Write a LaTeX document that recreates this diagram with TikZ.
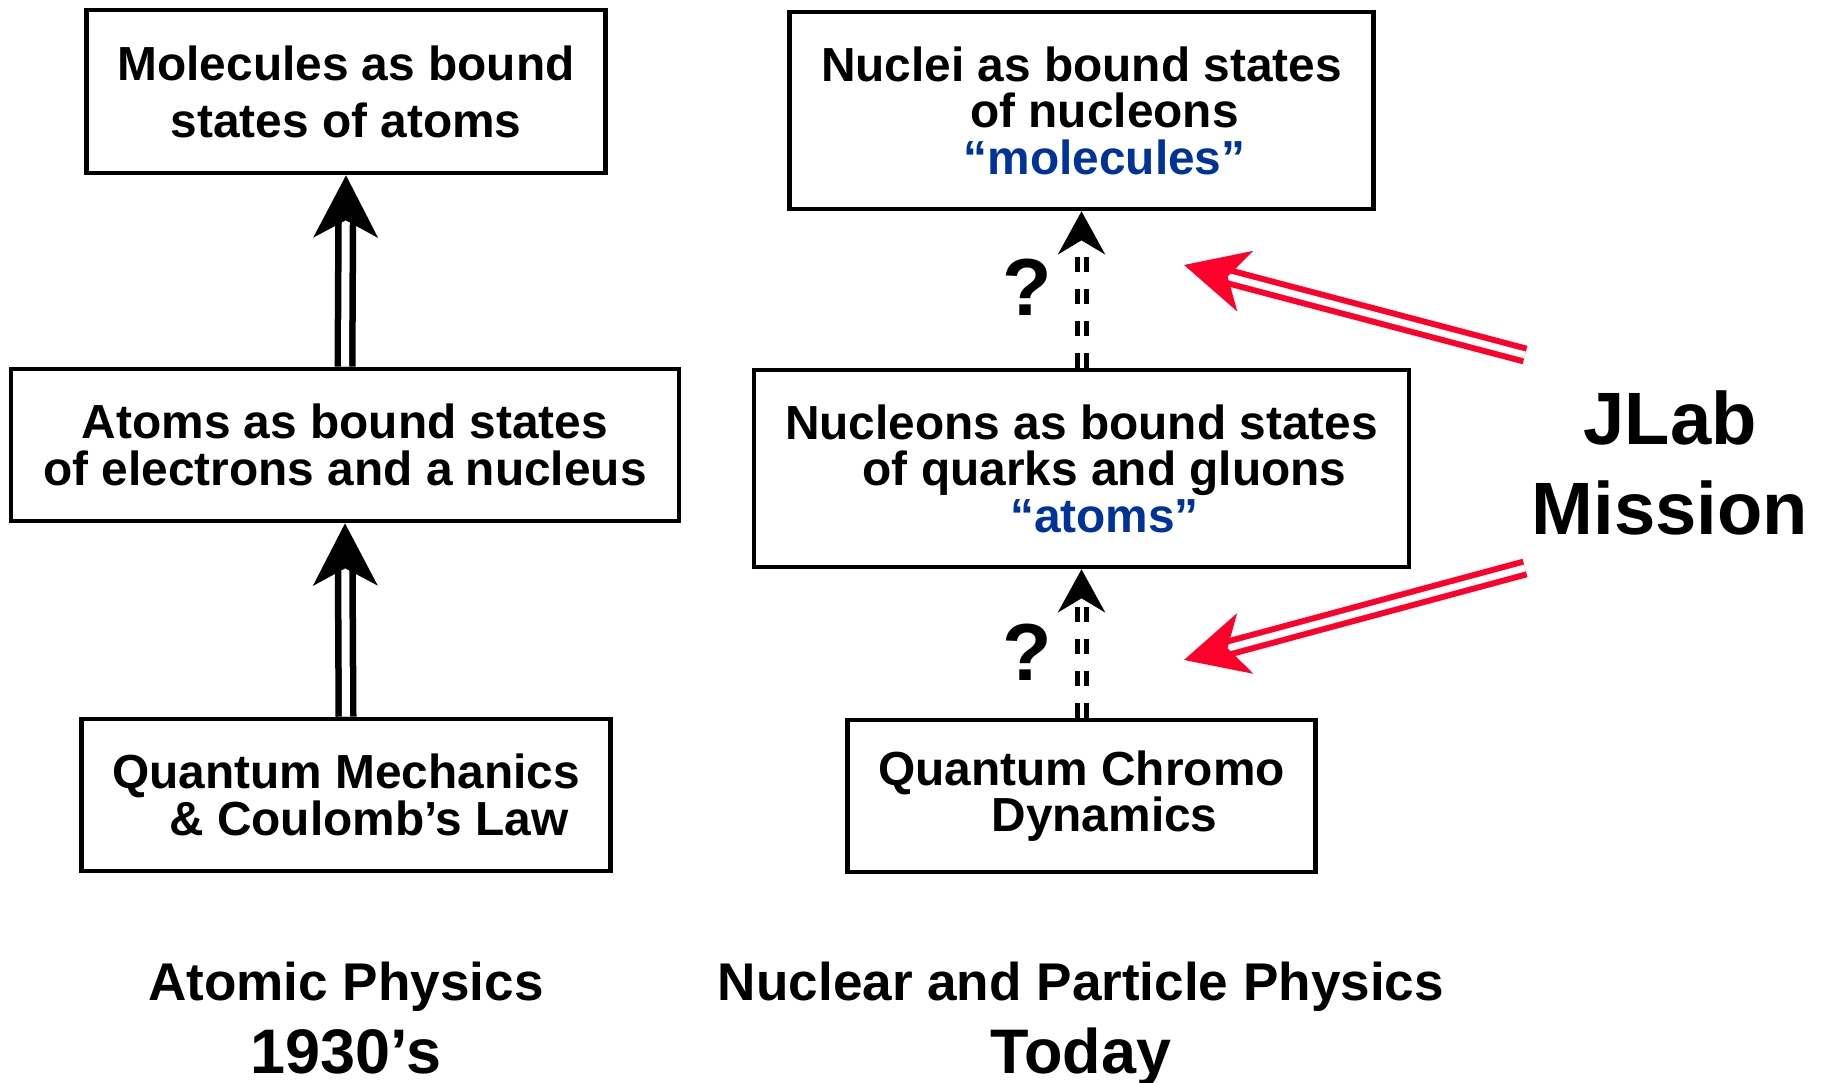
\documentclass[tikz,border=0pt]{standalone}
\usepackage{fontspec}
\setmainfont{Liberation Sans}
\usepackage{xcolor}
\definecolor{jlRed}{RGB}{255,0,43}
\definecolor{jlBlue}{RGB}{0,51,153}
\usepackage{tikz}
\usetikzlibrary{arrows.meta}

\begin{document}
\begin{tikzpicture}[
  level/.style={draw,line width=0.045cm,align=center,inner sep=0pt,
    font=\fontsize{13.6pt}{13.2pt}\selectfont\bfseries},
  bond/.style={double,line width=0.065cm,double distance=0.08cm,
    -{Stealth[length=0.62cm,width=0.64cm,inset=0.17cm]}},
  guess/.style={double,line width=0.05cm,double distance=0.04cm,
    dash pattern=on 0.15cm off 0.17cm,
    -{Stealth[length=0.43cm,width=0.47cm,inset=0.14cm]}},
  push/.style={jlRed,double,line width=0.06cm,double distance=0.07cm,
    -{Stealth[length=0.63cm,width=0.62cm,inset=0.18cm]}},
  quiz/.style={font=\fontsize{23pt}{23pt}\selectfont\bfseries,inner sep=0pt},
  era/.style={anchor=base,inner sep=0pt,font=\fontsize{15.1pt}{18pt}\selectfont\bfseries},
  when/.style={anchor=base,inner sep=0pt,font=\fontsize{17.9pt}{21pt}\selectfont\bfseries},
  x=0.01cm,y=-0.01cm]

  \useasboundingbox (0,0) rectangle (1822,1083);

  % atomic physics
  \node[level,minimum width=5.19cm,minimum height=1.63cm,
    font=\fontsize{13.6pt}{16.2pt}\selectfont\bfseries] (mol) at (346,91.5)
    {Molecules as bound\\states of atoms};
  \node[level,minimum width=6.68cm,minimum height=1.52cm] (atom) at (345,445)
    {Atoms as bound states\\of electrons and a nucleus};
  \node[level,minimum width=5.29cm,minimum height=1.52cm] (qm) at (346,795)
    {Quantum Mechanics\\\hspace*{0.46cm}\& Coulomb’s Law};

  \draw[bond] (atom.north) -- (mol.south);
  \draw[bond] (qm.north) -- (atom.south);

  % nuclear physics
  \node[level,minimum width=5.84cm,minimum height=1.97cm] (nuc) at (1081.5,110.5)
    {Nuclei as bound states\\\hspace*{0.46cm}of nucleons\\
     \hspace*{0.46cm}\textcolor{jlBlue}{“molecules”}};
  \node[level,minimum width=6.55cm,minimum height=1.97cm] (ncl) at (1081.5,468.5)
    {Nucleons as bound states\\\hspace*{0.46cm}of quarks and gluons\\
     \hspace*{0.46cm}\textcolor{jlBlue}{“atoms”}};
  \node[level,minimum width=4.68cm,minimum height=1.52cm] (qcd) at (1081.5,796)
    {Quantum Chromo\\\hspace*{0.46cm}Dynamics};

  \draw[guess] (ncl.north) -- (nuc.south);
  \draw[guess] (qcd.north) -- (ncl.south);
  \node[quiz] (q1) at (1027,287) {?};
  \node[quiz] (q2) at (1027,652) {?};

  % mission
  \node[align=center,inner sep=0pt,
    font=\fontsize{21.1pt}{25.5pt}\selectfont\bfseries] (jlab) at (1670,463)
    {JLab\\Mission};
  \coordinate (tail1) at (1525,355);
  \coordinate (tip1) at (1184,265);
  \coordinate (tail2) at (1525,568);
  \coordinate (tip2) at (1184,660);
  \draw[push] (tail1) -- (tip1);
  \draw[push] (tail2) -- (tip2);

  % eras
  \node[era] (atlab) at (346,1000) {Atomic Physics};
  \node[when] (atyr) at (346,1073) {1930’s};
  \node[era] (nplab) at (1081,1000) {Nuclear and Particle Physics};
  \node[when] (npyr) at (1081,1073) {Today};
\end{tikzpicture}
\end{document}
